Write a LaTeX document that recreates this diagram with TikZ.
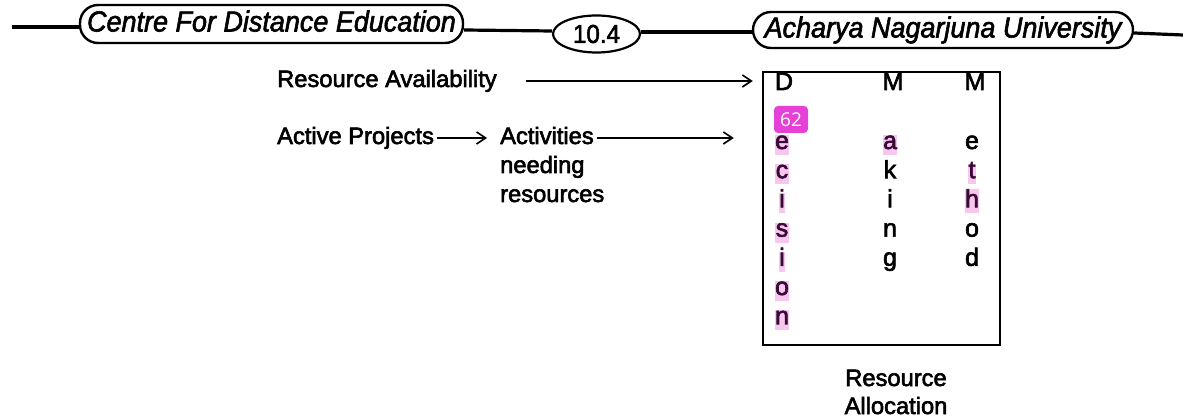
\documentclass[tikz,border=0pt]{standalone}
\usepackage{fontspec}
\setmainfont{Liberation Sans}
\newfontfamily\bodyfont[FakeBold=2.5]{Liberation Sans}
\newfontfamily\hdrfont[FakeBold=2,FakeStretch=0.93]{Liberation Sans}
\newfontfamily\badgefont{Open Sans}
\usetikzlibrary{arrows.meta,shapes.geometric}
\definecolor{badge}{HTML}{E641D6}
\definecolor{hl}{HTML}{F6C6EF}
\definecolor{hltext}{HTML}{3A0A36}
\begin{document}
\begin{tikzpicture}[x=1pt,y=-1pt,
  hdr/.style={draw,line width=2.4pt,rounded corners=18pt,inner sep=0pt,text height=21pt,text depth=6pt,font=\hdrfont\fontsize{29}{32}\selectfont\itshape},
  hline/.style={line width=3.2pt},
  txt/.style={inner sep=0pt,text height=17pt,text depth=5pt,font=\bodyfont\fontsize{23.7}{27}\selectfont},
  arr/.style={line width=1.8pt,-{Straight Barb[length=9pt,width=12pt,line width=1.6pt]}},
  lt/.style={inner sep=0pt,anchor=base,font=\bodyfont\fontsize{25}{28}\selectfont},
  hlt/.style={lt,fill=hl,text=hltext,inner xsep=0.5pt,text height=14pt,text depth=6pt}
]
\useasboundingbox (0,0) rectangle (1183,419);

% header
\node[hdr,minimum width=383pt,minimum height=38pt] (cfde) at (271.5,24) {Centre For Distance Education};
\node[draw,ellipse,line width=2.2pt,minimum width=87pt,minimum height=37pt,inner sep=0pt,font=\hdrfont\fontsize{26}{28}\selectfont] (pg) at (596.5,34) {10.4};
\node[hdr,minimum width=380pt,minimum height=36pt] (anu) at (943,30) {Acharya Nagarjuna University};
\coordinate (hl) at (12,27);
\coordinate (hr) at (1183,35);
\draw[hline] (hl) -- (cfde.west |- hl);
\draw[hline] ([yshift=-6pt]cfde.east) -- ([yshift=3pt]pg.west);
\draw[hline] ([yshift=2pt]pg.east) -- ([yshift=-2pt]anu.west);
\draw[hline] ([yshift=-3pt]anu.east) -- (hr);

% body
\node[txt,anchor=base west] (ra) at (277,87) {Resource Availability};
\node[txt,anchor=base west] (ap) at (277,144) {Active Projects};
\node[txt,anchor=base west] (act) at (500,144) {Activities};
\node[txt,anchor=base west] (need) at (500,173) {needing};
\node[txt,anchor=base west] (res) at (500,202) {resources};
\node[draw,line width=2.5pt,minimum width=237pt,minimum height=273pt,inner sep=0pt] (box) at (881.5,208.5) {};
\node[txt,anchor=base] (ral1) at (896,386) {Resource};
\node[txt,anchor=base] (ral2) at (896,414) {Allocation};

\draw[arr,shorten >=9pt] ([xshift=29pt]ra.east) -- (box.west |- ra.east);
\draw[arr,shorten >=13pt] ([xshift=3pt]ap.east) -- (act.west);
\draw[arr,shorten >=28pt] ([xshift=3pt]act.east) -- (box.west |- act.east);

% letters in the box
\node[lt] (d0) at (784,90) {D};
\node[lt] (m0) at (893,90) {M};
\node[lt] (mm0) at (975,90) {M};
\foreach \ch [count=\k] in {e,c,i,s,i,o,n}
  \node[hlt] (d\k) at (782,{149+29.2*(\k-1)}) {\ch};
\node[hlt] (m1) at (890,149) {a};
\foreach \ch [count=\k from 2] in {k,i,n,g}
  \node[lt] (m\k) at (890,{149+29.2*(\k-1)}) {\ch};
\node[lt] (mm1) at (972,149) {e};
\node[hlt] (mm2) at (972,178.2) {t};
\node[hlt,text height=18pt] (mm3) at (972,207.4) {h};
\node[lt] (mm4) at (972,236.6) {o};
\node[lt] (mm5) at (972,265.8) {d};

\node[fill=badge,text=white,rounded corners=4pt,minimum width=34pt,minimum height=27pt,inner sep=0pt,font=\badgefont\fontsize{19}{21}\selectfont] (badge) at (791,119.5) {62};
\end{tikzpicture}
\end{document}
